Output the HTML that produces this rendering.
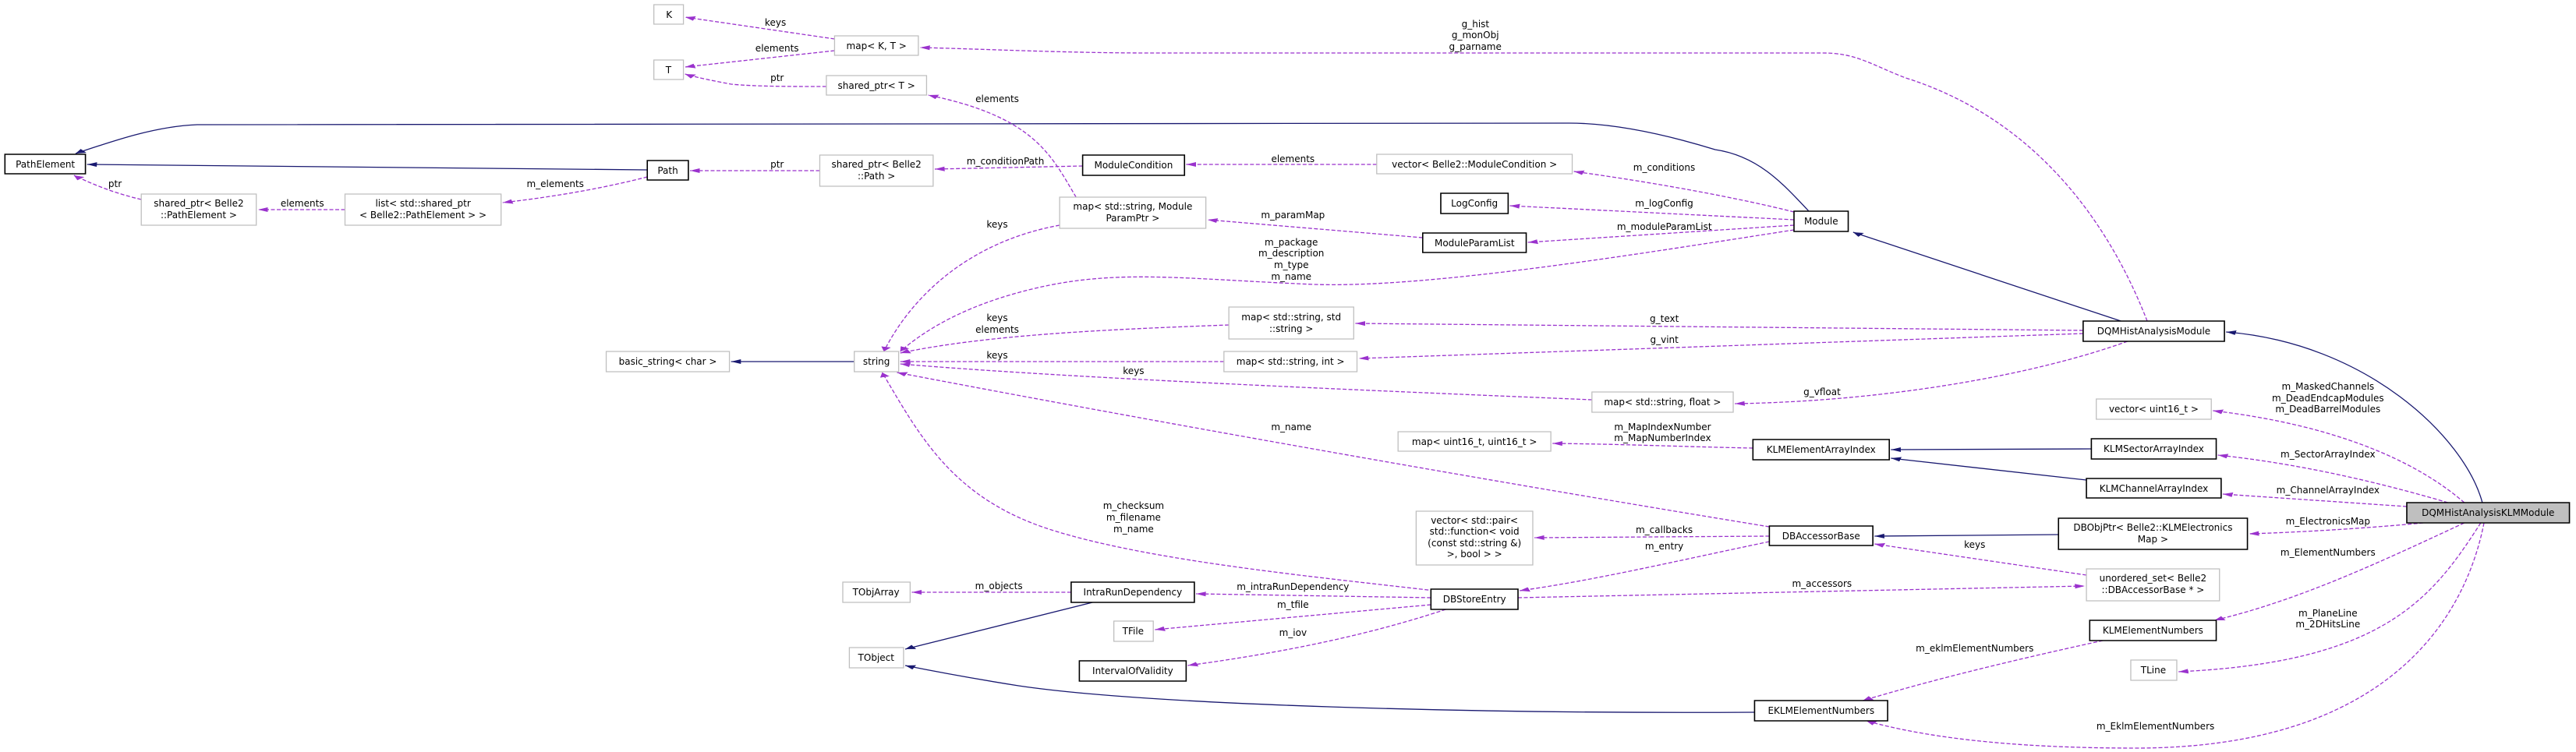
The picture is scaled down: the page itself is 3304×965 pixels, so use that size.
<!DOCTYPE html>
<html><head><meta charset="utf-8"><style>
html,body{margin:0;padding:0;background:#fff}
svg{display:block}
text{font-family:"DejaVu Sans","Liberation Sans",sans-serif;font-size:12px;fill:#000;text-anchor:middle;transform-box:fill-box;transform-origin:center;transform:scaleX(0.4746)}
.g{fill:#fff;stroke:#bfbfbf;stroke-width:1.3}
.b{fill:#fff;stroke:#000;stroke-width:1.6}
.k{fill:#bfbfbf;stroke:#000;stroke-width:1.6}
rect,path{vector-effect:non-scaling-stroke}
.d{fill:none;stroke:#9a32cd;stroke-width:1.3;stroke-dasharray:5 2.5;marker-end:url(#pa)}
.s{fill:none;stroke:#191970;stroke-width:1.3;marker-end:url(#na)}
</style></head><body>
<svg width="3304" height="965" viewBox="0 0 1568 965" preserveAspectRatio="none" xmlns="http://www.w3.org/2000/svg">
<defs>
<marker id="pa" viewBox="0 0 10 10" refX="10" refY="5" markerUnits="userSpaceOnUse" markerWidth="6" markerHeight="8" orient="auto"><path d="M0,0L10,5L0,10z" fill="#9a32cd" stroke="none"/></marker>
<marker id="na" viewBox="0 0 10 10" refX="10" refY="5" markerUnits="userSpaceOnUse" markerWidth="6" markerHeight="8" orient="auto"><path d="M0,0L10,5L0,10z" fill="#191970" stroke="none"/></marker>
</defs>

<!-- navy edges -->
<path class="s" d="M1101,271 C1085,235 1070,200 1044,192 C1010,170 980,158 955,158 L120,160 C95,162 70,180 46,197"/>
<path class="s" d="M394,218 L53,211"/>
<path class="s" d="M1291,412 L1128,298"/>
<path class="s" d="M1511,645 C1500,560 1440,440 1355,426"/>
<path class="s" d="M520,464 L445,464"/>
<path class="s" d="M1273,576 L1151,577"/>
<path class="s" d="M1270,616 L1151,588"/>
<path class="s" d="M1253,686 L1141,688"/>
<path class="s" d="M665,773 L551,833"/>
<path class="s" d="M1068,914 C900,916 700,905 620,880 C590,870 570,862 551,854"/>

<!-- purple edges -->
<path class="d" d="M508,50 L417,22"/>
<path class="d" d="M508,65 L417,86"/>
<path class="d" d="M503,111 C480,111 460,111 445,108 C435,104 425,100 417,95"/>
<path class="d" d="M86,256 C70,248 58,238 45,225"/>
<path class="d" d="M210,269 L157,269"/>
<path class="d" d="M394,227 C370,240 340,252 306,260"/>
<path class="d" d="M499,219 L420,219"/>
<path class="d" d="M659,213 L569,217"/>
<path class="d" d="M838,211 L722,211"/>
<path class="d" d="M1092,272 C1060,255 1010,235 958,220"/>
<path class="d" d="M1092,282 L919,264"/>
<path class="d" d="M1092,289 L930,311"/>
<path class="d" d="M866,305 L735,282"/>
<path class="d" d="M655,253 C640,200 630,150 565,122"/>
<path class="d" d="M645,289 C590,310 555,380 538,451"/>
<path class="d" d="M1092,295 C1000,325 870,370 800,365 C720,358 680,345 630,370 C590,390 565,420 548,451"/>
<path class="d" d="M748,417 C670,423 600,430 548,453"/>
<path class="d" d="M745,464 L548,464"/>
<path class="d" d="M969,513 C820,500 650,485 548,467"/>
<path class="d" d="M1307,412 C1290,320 1250,160 1160,100 C1140,84 1130,68 1110,68 L700,68 C650,68 600,63 560,61"/>
<path class="d" d="M1268,424 L825,415"/>
<path class="d" d="M1268,428 L827,460"/>
<path class="d" d="M1295,438 C1240,480 1150,515 1056,518"/>
<path class="d" d="M1067,575 C1020,573 990,570 945,569"/>
<path class="d" d="M1077,676 C900,615 700,540 546,478"/>
<path class="d" d="M873,758 C800,740 700,720 640,680 C580,640 560,560 537,478"/>
<path class="d" d="M1077,688 L934,690"/>
<path class="d" d="M1077,695 C1020,720 970,745 925,758"/>
<path class="d" d="M924,767 L1269,752"/>
<path class="d" d="M1270,738 L1141,698"/>
<path class="d" d="M871,767 L728,762"/>
<path class="d" d="M652,760 L555,760"/>
<path class="d" d="M871,776 L703,808"/>
<path class="d" d="M880,782 C840,810 790,835 723,854"/>
<path class="d" d="M1500,645 C1470,590 1420,545 1347,527"/>
<path class="d" d="M1490,645 C1450,620 1400,595 1350,584"/>
<path class="d" d="M1465,650 L1353,634"/>
<path class="d" d="M1475,671 C1440,678 1400,683 1369,685"/>
<path class="d" d="M1500,671 C1450,720 1400,770 1348,796"/>
<path class="d" d="M1510,671 C1480,770 1450,850 1326,862"/>
<path class="d" d="M1512,671 C1500,800 1450,960 1300,960 C1220,960 1170,945 1136,925"/>
<path class="d" d="M1280,822 C1230,845 1180,870 1134,899"/>

<!-- nodes -->
<rect class="g" x="398" y="6" width="18" height="25"/><text x="407" y="23">K</text>
<rect class="g" x="398" y="77" width="18" height="25"/><text x="407" y="94">T</text>
<rect class="g" x="508" y="46" width="51" height="25"/><text x="533.5" y="63">map&lt; K, T &gt;</text>
<rect class="g" x="503" y="97" width="61" height="25"/><text x="533.5" y="114">shared_ptr&lt; T &gt;</text>
<rect class="b" x="3" y="198" width="49" height="25"/><text x="27.5" y="215">PathElement</text>
<rect class="b" x="394" y="206" width="25" height="25"/><text x="406.5" y="223">Path</text>
<rect class="g" x="86" y="249" width="70" height="40"/><text x="121" y="265">shared_ptr&lt; Belle2</text><text x="121" y="280">::PathElement &gt;</text>
<rect class="g" x="210" y="249" width="95" height="40"/><text x="257.5" y="265">list&lt; std::shared_ptr</text><text x="257.5" y="280">&lt; Belle2::PathElement &gt; &gt;</text>
<rect class="g" x="499" y="199" width="69" height="40"/><text x="533.5" y="215">shared_ptr&lt; Belle2</text><text x="533.5" y="230">::Path &gt;</text>
<rect class="g" x="369" y="451" width="75" height="26"/><text x="406.5" y="468">basic_string&lt; char &gt;</text>
<rect class="g" x="520" y="451" width="27" height="26"/><text x="533.5" y="468">string</text>
<rect class="b" x="659" y="199" width="62" height="26"/><text x="690" y="216">ModuleCondition</text>
<rect class="g" x="838" y="198" width="119" height="25"/><text x="897.5" y="215">vector&lt; Belle2::ModuleCondition &gt;</text>
<rect class="g" x="645" y="253" width="89" height="40"/><text x="689.5" y="269">map&lt; std::string, Module</text><text x="689.5" y="284">ParamPtr &gt;</text>
<rect class="b" x="877" y="248" width="41" height="26"/><text x="897.5" y="265">LogConfig</text>
<rect class="b" x="866" y="299" width="63" height="25"/><text x="897.5" y="316">ModuleParamList</text>
<rect class="g" x="748" y="394" width="76" height="41"/><text x="786" y="411">map&lt; std::string, std</text><text x="786" y="426">::string &gt;</text>
<rect class="g" x="745" y="451" width="81" height="26"/><text x="785.5" y="468">map&lt; std::string, int &gt;</text>
<rect class="b" x="1092" y="271" width="33" height="26"/><text x="1108.5" y="288">Module</text>
<rect class="b" x="1268" y="412" width="86" height="26"/><text x="1311" y="429">DQMHistAnalysisModule</text>
<rect class="g" x="969" y="503" width="86" height="26"/><text x="1012" y="520">map&lt; std::string, float &gt;</text>
<rect class="g" x="851" y="554" width="93" height="25"/><text x="897.5" y="571">map&lt; uint16_t, uint16_t &gt;</text>
<rect class="g" x="862" y="656" width="71" height="69"/><text x="897.5" y="672">vector&lt; std::pair&lt;</text><text x="897.5" y="686">std::function&lt; void</text><text x="897.5" y="701">(const std::string &amp;)</text><text x="897.5" y="715">&gt;, bool &gt; &gt;</text>
<rect class="g" x="513" y="747" width="41" height="26"/><text x="533.5" y="764">TObjArray</text>
<rect class="b" x="652" y="747" width="75" height="26"/><text x="689.5" y="764">IntraRunDependency</text>
<rect class="b" x="871" y="756" width="53" height="26"/><text x="897.5" y="773">DBStoreEntry</text>
<rect class="g" x="678" y="797" width="24" height="26"/><text x="690" y="814">TFile</text>
<rect class="g" x="517" y="831" width="33" height="26"/><text x="533.5" y="848">TObject</text>
<rect class="b" x="657" y="848" width="65" height="26"/><text x="689.5" y="865">IntervalOfValidity</text>
<rect class="g" x="1276" y="512" width="70" height="26"/><text x="1311" y="529">vector&lt; uint16_t &gt;</text>
<rect class="b" x="1067" y="564" width="83" height="26"/><text x="1108.5" y="581">KLMElementArrayIndex</text>
<rect class="b" x="1273" y="563" width="76" height="26"/><text x="1311" y="580">KLMSectorArrayIndex</text>
<rect class="b" x="1270" y="614" width="82" height="25"/><text x="1311" y="631">KLMChannelArrayIndex</text>
<rect class="k" x="1465" y="645" width="99" height="26"/><text x="1514.5" y="662">DQMHistAnalysisKLMModule</text>
<rect class="b" x="1077" y="675" width="63" height="25"/><text x="1108.5" y="692">DBAccessorBase</text>
<rect class="b" x="1253" y="665" width="115" height="40"/><text x="1310.5" y="681">DBObjPtr&lt; Belle2::KLMElectronics</text><text x="1310.5" y="696">Map &gt;</text>
<rect class="g" x="1270" y="730" width="81" height="41"/><text x="1310.5" y="746">unordered_set&lt; Belle2</text><text x="1310.5" y="761">::DBAccessorBase * &gt;</text>
<rect class="b" x="1272" y="796" width="77" height="26"/><text x="1310.5" y="813">KLMElementNumbers</text>
<rect class="g" x="1297" y="847" width="28" height="26"/><text x="1311" y="864">TLine</text>
<rect class="b" x="1068" y="899" width="81" height="26"/><text x="1108.5" y="916">EKLMElementNumbers</text>

<!-- labels -->
<text x="472" y="33">keys</text>
<text x="473" y="66">elements</text>
<text x="473" y="104">ptr</text>
<text x="70" y="240">ptr</text>
<text x="184" y="265">elements</text>
<text x="338" y="240">m_elements</text>
<text x="473" y="215">ptr</text>
<text x="612" y="211">m_conditionPath</text>
<text x="787" y="208">elements</text>
<text x="1013" y="219">m_conditions</text>
<text x="1013" y="265">m_logConfig</text>
<text x="1013" y="295">m_moduleParamList</text>
<text x="787" y="280">m_paramMap</text>
<text x="607" y="131">elements</text>
<text x="607" y="292">keys</text>
<text x="786" y="315">m_package</text>
<text x="786" y="329">m_description</text>
<text x="786" y="344">m_type</text>
<text x="786" y="359">m_name</text>
<text x="607" y="412">keys</text>
<text x="607" y="427">elements</text>
<text x="607" y="460">keys</text>
<text x="690" y="480">keys</text>
<text x="898" y="35">g_hist</text>
<text x="898" y="49">g_monObj</text>
<text x="898" y="64">g_parname</text>
<text x="1013" y="413">g_text</text>
<text x="1013" y="440">g_vint</text>
<text x="1109" y="507">g_vfloat</text>
<text x="1012" y="552">m_MapIndexNumber</text>
<text x="1012" y="566">m_MapNumberIndex</text>
<text x="786" y="552">m_name</text>
<text x="690" y="653">m_checksum</text>
<text x="690" y="668">m_filename</text>
<text x="690" y="683">m_name</text>
<text x="1013" y="684">m_callbacks</text>
<text x="1013" y="705">m_entry</text>
<text x="1109" y="753">m_accessors</text>
<text x="1202" y="703">keys</text>
<text x="787" y="757">m_intraRunDependency</text>
<text x="608" y="756">m_objects</text>
<text x="787" y="780">m_tfile</text>
<text x="787" y="816">m_iov</text>
<text x="1417" y="500">m_MaskedChannels</text>
<text x="1417" y="515">m_DeadEndcapModules</text>
<text x="1417" y="529">m_DeadBarrelModules</text>
<text x="1417" y="587">m_SectorArrayIndex</text>
<text x="1417" y="633">m_ChannelArrayIndex</text>
<text x="1417" y="673">m_ElectronicsMap</text>
<text x="1417" y="713">m_ElementNumbers</text>
<text x="1417" y="791">m_PlaneLine</text>
<text x="1417" y="805">m_2DHitsLine</text>
<text x="1312" y="936">m_EklmElementNumbers</text>
<text x="1202" y="836">m_eklmElementNumbers</text>
</svg>
</body></html>
